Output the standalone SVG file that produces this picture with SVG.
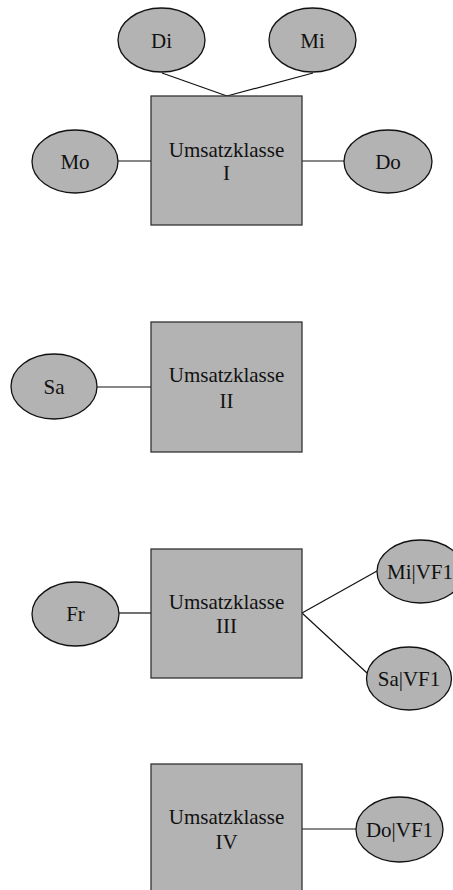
<svg xmlns="http://www.w3.org/2000/svg" width="453" height="890" viewBox="0 0 453 890">
<style>
.box{fill:#b3b3b3;stroke:#333;stroke-width:1.3}
.ell{fill:#b3b3b3;stroke:#111;stroke-width:1.3}
.t{font-family:"Liberation Serif","Times New Roman",serif;font-size:21px;fill:#111;text-anchor:middle}
.c{stroke:#111;stroke-width:1.2;fill:none}
</style>
<rect width="453" height="890" fill="#fff"/>
<g id="connectors">
<line class="c" x1="162" y1="73" x2="227" y2="96"/>
<line class="c" x1="313" y1="73" x2="227" y2="96"/>
<line class="c" x1="118" y1="161" x2="151" y2="161"/>
<line class="c" x1="302" y1="161" x2="344" y2="161"/>
<line class="c" x1="97" y1="387" x2="151" y2="387"/>
<line class="c" x1="119" y1="613" x2="151" y2="613"/>
<line class="c" x1="302" y1="613" x2="377" y2="571"/>
<line class="c" x1="302" y1="613" x2="367" y2="673"/>
<line class="c" x1="302" y1="829" x2="356" y2="829"/>
</g>
<g id="klasse1"><rect class="box" x="151" y="96" width="151" height="129"/><text class="t" x="226.5" y="157">Umsatzklasse</text><text class="t" x="226.5" y="180">I</text></g>
<g id="di"><ellipse class="ell" cx="161.5" cy="40" rx="43.5" ry="32"/><text class="t" x="161.5" y="48">Di</text></g>
<g id="mi"><ellipse class="ell" cx="312.5" cy="40" rx="43.5" ry="32"/><text class="t" x="312.5" y="48">Mi</text></g>
<g id="mo"><ellipse class="ell" cx="75" cy="161.5" rx="43" ry="31.5"/><text class="t" x="75" y="169">Mo</text></g>
<g id="do"><ellipse class="ell" cx="388" cy="161.5" rx="44" ry="31.5"/><text class="t" x="388" y="169">Do</text></g>
<g id="klasse2"><rect class="box" x="151" y="322" width="151" height="130"/><text class="t" x="226.5" y="382">Umsatzklasse</text><text class="t" x="226.5" y="408">II</text></g>
<g id="sa"><ellipse class="ell" cx="54" cy="386.5" rx="43" ry="32.5"/><text class="t" x="54" y="394">Sa</text></g>
<g id="klasse3"><rect class="box" x="151" y="549" width="151" height="129"/><text class="t" x="226.5" y="609">Umsatzklasse</text><text class="t" x="226.5" y="633">III</text></g>
<g id="fr"><ellipse class="ell" cx="75.5" cy="614" rx="43.5" ry="32"/><text class="t" x="75.5" y="621">Fr</text></g>
<g id="mivf1"><ellipse class="ell" cx="420.5" cy="571.5" rx="43.5" ry="31.5"/><text class="t" x="420" y="579">Mi|VF1</text></g>
<g id="savf1"><ellipse class="ell" cx="409" cy="678.5" rx="42.5" ry="31.5"/><text class="t" x="409" y="686">Sa|VF1</text></g>
<g id="klasse4"><rect class="box" x="151" y="764" width="151" height="132"/><text class="t" x="226.5" y="824">Umsatzklasse</text><text class="t" x="226.5" y="849">IV</text></g>
<g id="dovf1"><ellipse class="ell" cx="399.5" cy="829.5" rx="43.5" ry="32.5"/><text class="t" x="399.5" y="837">Do|VF1</text></g>
</svg>
